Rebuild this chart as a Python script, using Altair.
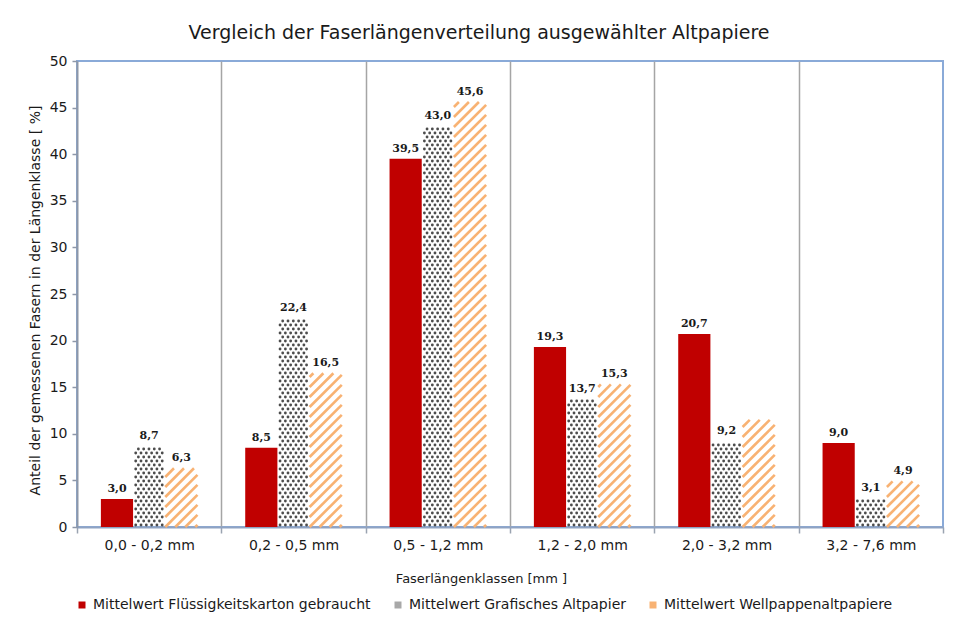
import json
import math
import altair as alt
import pandas as pd

# ---------------- data ----------------
categories = ["0,0 - 0,2 mm", "0,2 - 0,5 mm", "0,5 - 1,2 mm",
              "1,2 - 2,0 mm", "2,0 - 3,2 mm", "3,2 - 7,6 mm"]
series_names = ["Mittelwert Flüssigkeitskarton gebraucht",
                "Mittelwert Grafisches Altpapier",
                "Mittelwert Wellpappenaltpapiere"]
fluessig = [3.0, 8.5, 39.5, 19.3, 20.7, 9.0]
grafisch = [8.7, 22.4, 43.0, 13.7, 9.2, 3.1]
wellpappe = [6.3, 16.5, 45.6, 15.3, 11.5, 4.9]
labels_fluessig = ["3,0", "8,5", "39,5", "19,3", "20,7", "9,0"]
labels_grafisch = ["8,7", "22,4", "43,0", "13,7", "9,2", "3,1"]
labels_wellpappe = ["6,3", "16,5", "45,6", "15,3", "", "4,9"]
y_ticks = [0, 5, 10, 15, 20, 25, 30, 35, 40, 45, 50]

colors = ["#C00000", "#A8A8A8", "#F8B273"]

rows = []
for si, (vals, labs) in enumerate([(fluessig, labels_fluessig),
                                   (grafisch, labels_grafisch),
                                   (wellpappe, labels_wellpappe)]):
    for ci, (v, lab) in enumerate(zip(vals, labs)):
        rows.append({"ci": ci, "si": si, "kategorie": categories[ci],
                     "serie": series_names[si], "wert": v, "label": lab})
df = pd.DataFrame(rows)

# ---------------- geometry ----------------
W, H = 866, 466
NCAT = len(categories)
YMAX = 50
PX_X = W / NCAT
PX_Y = H / YMAX
BW = 0.223            # bar width in category units
BWPX = BW * PX_X

FONT = "DejaVu Sans"

base = alt.Chart(df).transform_calculate(
    left=f"datum.ci + 0.5 + (datum.si - 1.5) * {BW}"
).transform_calculate(
    right=f"datum.left + {BW}",
    mid=f"datum.left + {BW / 2}",
)

xscale = alt.Scale(domain=[0, NCAT], nice=False, zero=False)
yscale = alt.Scale(domain=[0, YMAX], nice=False, zero=True)

label_expr = f"datum.value < {NCAT} ? {json.dumps(categories)}[datum.value] : ''"

x_axis = alt.Axis(
    values=list(range(NCAT + 1)), labelExpr=label_expr, labelOffset=PX_X / 2,
    labelFlush=False, labelOverlap=False, labelBound=False,
    grid=True,
    gridColor={"condition": {"test": f"datum.value == 0 || datum.value == {NCAT}",
                             "value": "transparent"}, "value": "#A5A5A5"},
    gridWidth=1.5,
    ticks=True, tickSize=6, tickColor="#9AA3B0", tickWidth=1.5,
    domainColor="#8FA3C3", domainWidth=2,
    labelFont=FONT, labelFontSize=14, labelColor="#1a1a1a", labelPadding=5,
    title="Faserlängenklassen [mm ]", titleFont=FONT, titleFontSize=13,
    titleFontWeight="normal", titleColor="#1a1a1a",
    titleX=404, titleY=51, titleBaseline="middle",
)

y_axis = alt.Axis(
    values=y_ticks, grid=False, tickSize=5, tickColor="#8D97A8", tickWidth=1.5,
    domainColor="#8D97A8", domainWidth=2,
    labelFont=FONT, labelFontSize=14, labelColor="#1a1a1a", labelPadding=5,
    title="Anteil der gemessenen Fasern in der Längenklasse [ %]",
    titleFont=FONT, titleFontSize=14, titleFontWeight="normal", titleColor="#1a1a1a",
    titleX=-42, titleY=239, titleBaseline="middle",
)

# solid red bars
bars = base.transform_filter("datum.si == 0").mark_rect(color=colors[0]).encode(
    x=alt.X("left:Q", scale=xscale, axis=x_axis),
    x2="right:Q",
    y=alt.Y("wert:Q", scale=yscale, axis=y_axis),
    y2=alt.Y2Datum(0),
)

# dotted pattern for "Grafisches Altpapier"
ROW = 4.0
COL = 5.3
dots = base.transform_filter("datum.si == 1").transform_calculate(
    r=f"sequence(0, ceil(datum.wert * {PX_Y} / {ROW}))"
).transform_flatten(["r"]).transform_calculate(
    c=f"sequence(0, {int(BWPX // COL) + 2})"
).transform_flatten(["c"]).transform_calculate(
    dxp=f"(datum.c + 0.5 + 0.5 * (datum.r % 2)) * {COL}",
    dyp=f"(datum.r + 0.5) * {ROW}",
).transform_filter(
    f"datum.dxp <= {BWPX - 1.2} && datum.dyp <= datum.wert * {PX_Y} - 1"
).transform_calculate(
    px=f"datum.left + datum.dxp / {PX_X}",
    py=f"datum.dyp / {PX_Y}",
).mark_circle(size=8, color="#383838", opacity=0.9).encode(
    x=alt.X("px:Q", scale=xscale, axis=x_axis),
    y=alt.Y("py:Q", scale=yscale, axis=y_axis),
)

# diagonal stripes for "Wellpappenaltpapiere"
P = 10.0
stripes = base.transform_filter("datum.si == 2").transform_calculate(
    hp=f"datum.wert * {PX_Y}"
).transform_calculate(
    k=f"sequence({-math.ceil(BWPX / P)}, ceil(datum.hp / {P}) + 1)"
).transform_flatten(["k"]).transform_calculate(
    xs=f"max(0, -datum.k * {P})",
    ys=f"max(0, datum.k * {P})",
    xe=f"min({BWPX}, datum.hp - datum.k * {P})",
    ye=f"min(datum.k * {P} + {BWPX}, datum.hp)",
).transform_filter("datum.xe - datum.xs > 0.8").transform_calculate(
    sx=f"datum.left + datum.xs / {PX_X}",
    sx2=f"datum.left + datum.xe / {PX_X}",
    sy=f"datum.ys / {PX_Y}",
    sy2=f"datum.ye / {PX_Y}",
).mark_rule(color=colors[2], strokeWidth=2.6).encode(
    x=alt.X("sx:Q", scale=xscale, axis=x_axis),
    x2="sx2:Q",
    y=alt.Y("sy:Q", scale=yscale, axis=y_axis),
    y2="sy2:Q",
)

texts = base.transform_filter("datum.label != ''").mark_text(
    baseline="bottom", dy=-5, font="DejaVu Serif", fontWeight="bold",
    fontSize=11, color="#1a1a1a",
).encode(
    x=alt.X("mid:Q", scale=xscale, axis=x_axis),
    y=alt.Y("wert:Q", scale=yscale, axis=y_axis),
    text="label:N",
)

legend_layer = base.mark_square(opacity=0).encode(
    x=alt.X("mid:Q", scale=xscale, axis=x_axis),
    y=alt.Y("wert:Q", scale=yscale, axis=y_axis),
    color=alt.Color(
        "serie:N",
        scale=alt.Scale(domain=series_names, range=colors),
        legend=alt.Legend(
            orient="none", legendX=-2, legendY=537, direction="horizontal",
            title=None, symbolType="square", symbolSize=49, symbolOpacity=1,
            symbolStrokeWidth=0, labelFont=FONT, labelFontSize=14,
            labelColor="#1a1a1a", labelOffset=4, columnPadding=20, padding=0,
            labelLimit=0,
        ),
    ),
)

chart = alt.layer(bars, dots, stripes, texts, legend_layer).properties(
    width=W, height=H,
    background="white",
    title=alt.TitleParams(
        "Vergleich der Faserlängenverteilung ausgewählter Altpapiere",
        font=FONT, fontSize=19, fontWeight="normal", color="#1a1a1a",
        anchor="middle", frame="group", dx=-31, offset=11,
    ),
    autosize=alt.AutoSizeParams(type="none"),
    padding={"left": 69, "top": 53, "right": 3, "bottom": 86},
).configure_view(stroke="#8AAAD8", strokeWidth=2)

chart.save("out.html", embed_options={"renderer": "svg", "actions": False})
